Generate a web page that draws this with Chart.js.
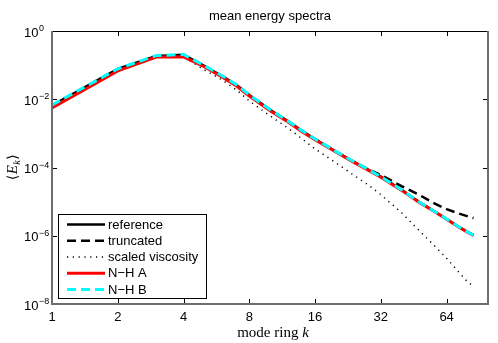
<!DOCTYPE html>
<html>
<head>
<meta charset="utf-8">
<script src="https://cdn.jsdelivr.net/npm/chart.js@4.4.1/dist/chart.umd.min.js"></script>
<style>
  html, body { margin: 0; padding: 0; background: #fff; }
  canvas { display: block; }
</style>
</head>
<body>
<canvas id="chartEspectro" width="498" height="343"></canvas>
<script>
const modos = [1, 2, 3, 4, 5, 6, 7, 8, 10, 12, 14, 16, 20, 24, 28, 32, 40, 48, 56, 64, 72, 80, 85];

const reference = [6.6e-3, 0.077, 0.185, 0.20, 0.094, 0.048, 0.026, 0.0133, 4.8e-3, 2.3e-3, 1.17e-3, 6.8e-4,
    2.9e-4, 1.49e-4, 8.7e-5, 5.4e-5, 2.17e-5, 9.7e-6, 5.3e-6, 3.1e-6, 1.9e-6, 1.28e-6, 1.04e-6];
const truncated = [6.6e-3, 0.077, 0.185, 0.20, 0.094, 0.048, 0.026, 0.0133, 4.8e-3, 2.3e-3, 1.17e-3, 6.8e-4,
    2.9e-4, 1.5e-4, 8.9e-5, 6.0e-5, 2.8e-5, 1.57e-5, 9.0e-6, 6.0e-6, 4.6e-6, 3.7e-6, 3.3e-6];
const scaledViscosity = [6.0e-3, 0.072, 0.175, 0.175, 0.072, 0.037, 0.0186, 8.9e-3, 3.2e-3, 1.44e-3, 6.8e-4, 3.5e-4,
    1.35e-4, 6.0e-5, 3.1e-5, 1.6e-5, 4.6e-6, 1.4e-6, 5.3e-7, 2.2e-7, 9.2e-8, 4.4e-8, 3.3e-8];
const nhA = [5.6e-3, 0.068, 0.172, 0.175, 0.088, 0.045, 0.0245, 0.0125, 4.5e-3, 2.18e-3, 1.1e-3, 6.5e-4,
    2.8e-4, 1.44e-4, 8.4e-5, 5.2e-5, 2.1e-5, 9.5e-6, 5.2e-6, 3.05e-6, 1.87e-6, 1.26e-6, 1.03e-6];
const nhB = [6.8e-3, 0.078, 0.19, 0.205, 0.095, 0.049, 0.0265, 0.0135, 4.85e-3, 2.32e-3, 1.18e-3, 6.85e-4,
    2.92e-4, 1.5e-4, 8.7e-5, 5.4e-5, 2.17e-5, 9.7e-6, 5.3e-6, 3.1e-6, 1.9e-6, 1.28e-6, 1.04e-6];

const ticksX = [1, 2, 4, 8, 16, 32, 64];
const ticksY = [1e-8, 1e-6, 1e-4, 1e-2, 1];

const SANS = '"Liberation Sans", Arial, Helvetica, sans-serif';
const SERIF = '"Liberation Serif", "Times New Roman", serif';

const puntos = serie => modos.map((k, i) => ({ x: k, y: serie[i] }));

// MATLAB-style box, inward ticks, labels and legend
const marcoMatlab = {
    id: 'marcoMatlab',
    afterDraw(chart) {
        const { ctx, chartArea: a, scales: { x, y } } = chart;
        ctx.save();

        // ticks
        ctx.strokeStyle = '#000';
        ctx.lineWidth = 1;
        ctx.setLineDash([]);
        ctx.beginPath();
        ticksX.forEach(v => {
            const px = Math.round(x.getPixelForValue(v)) + 0.5;
            ctx.moveTo(px, a.bottom); ctx.lineTo(px, a.bottom - 5);
            ctx.moveTo(px, a.top); ctx.lineTo(px, a.top + 5);
        });
        ticksY.forEach(v => {
            const py = Math.round(y.getPixelForValue(v)) + 0.5;
            ctx.moveTo(a.left, py); ctx.lineTo(a.left + 5, py);
            ctx.moveTo(a.right, py); ctx.lineTo(a.right - 5, py);
        });
        ctx.stroke();

        // frame
        ctx.beginPath();
        ctx.moveTo(a.left, a.top + 0.5); ctx.lineTo(a.right, a.top + 0.5);
        ctx.stroke();
        ctx.strokeStyle = '#6e6e6e';
        ctx.lineWidth = 2;
        ctx.beginPath();
        ctx.moveTo(a.left, a.top); ctx.lineTo(a.left, a.bottom);
        ctx.lineTo(a.right, a.bottom); ctx.lineTo(a.right, a.top);
        ctx.stroke();

        // y tick labels 10^n
        ctx.fillStyle = '#000';
        ctx.textAlign = 'left';
        ctx.textBaseline = 'alphabetic';
        ticksY.forEach(v => {
            const py = y.getPixelForValue(v);
            const exp = Math.round(Math.log10(v));
            ctx.font = '13px ' + SANS;
            ctx.fillText('10', 24, py + 5.5);
            const w = ctx.measureText('10').width;
            ctx.font = '9px ' + SANS;
            ctx.fillText(exp === 0 ? '0' : '\u2212' + (-exp), 24 + w + 0.5, py);
        });

        // title
        const cx = (a.left + a.right) / 2;
        ctx.font = '13px ' + SANS;
        ctx.textAlign = 'center';
        ctx.fillText('mean energy spectra', cx, 20);

        // x label
        ctx.textAlign = 'left';
        ctx.font = '15px ' + SERIF;
        const t1 = 'mode ring ';
        const w1 = ctx.measureText(t1).width;
        ctx.font = 'italic 15px ' + SERIF;
        const w2 = ctx.measureText('k').width;
        let sx = cx + 3 - (w1 + w2) / 2;
        ctx.font = '15px ' + SERIF;
        ctx.fillText(t1, sx, 337);
        ctx.font = 'italic 15px ' + SERIF;
        ctx.fillText('k', sx + w1, 337);

        // y label <E_k>
        ctx.save();
        ctx.translate(17, 168);
        ctx.rotate(-Math.PI / 2);
        const partes = [
            { t: '\u27E8', f: '14px "DejaVu Serif", serif', dy: 0 },
            { t: 'E', f: 'italic 15px ' + SERIF, dy: 0 },
            { t: 'k', f: 'italic 10px ' + SERIF, dy: 3 },
            { t: '\u27E9', f: '14px "DejaVu Serif", serif', dy: 0 }
        ];
        let total = 0;
        partes.forEach(p => { ctx.font = p.f; p.w = ctx.measureText(p.t).width; total += p.w; });
        let px = -total / 2;
        partes.forEach(p => { ctx.font = p.f; ctx.fillText(p.t, px, p.dy); px += p.w + 0.5; });
        ctx.restore();

        // legend
        const lx = 58.5, ly = 214.5, lw = 148, lh = 84;
        ctx.fillStyle = '#fff';
        ctx.fillRect(lx, ly, lw, lh);
        ctx.strokeStyle = '#000';
        ctx.lineWidth = 1;
        ctx.setLineDash([]);
        ctx.strokeRect(lx, ly, lw, lh);
        ctx.font = '13px ' + SANS;
        ctx.textBaseline = 'middle';
        chart.data.datasets.forEach((ds, i) => {
            const yy = 224.5 + i * 16.25;
            ctx.strokeStyle = ds.borderColor;
            ctx.lineWidth = ds.borderWidth;
            ctx.setLineDash(ds.borderDash || []);
            ctx.beginPath();
            ctx.moveTo(67, yy); ctx.lineTo(105, yy);
            ctx.stroke();
            ctx.fillStyle = '#000';
            ctx.fillText(ds.label, 108, yy + 0.5);
        });
        ctx.restore();
    }
};

new Chart(document.getElementById('chartEspectro'), {
    type: 'line',
    data: {
        datasets: [
            { label: 'reference', data: puntos(reference), borderColor: '#000000', borderWidth: 2.5, order: 5 },
            { label: 'truncated', data: puntos(truncated), borderColor: '#000000', borderWidth: 2.5, borderDash: [9, 5], order: 4 },
            { label: 'scaled viscosity', data: puntos(scaledViscosity), borderColor: '#000000', borderWidth: 1.5, borderDash: [1.2, 4.6], order: 3 },
            { label: 'N\u2212H A', data: puntos(nhA), borderColor: '#ff0000', borderWidth: 3, order: 2 },
            { label: 'N\u2212H B', data: puntos(nhB), borderColor: '#00ffff', borderWidth: 3, borderDash: [9, 5], order: 1 }
        ]
    },
    options: {
        responsive: false,
        animation: false,
        devicePixelRatio: 1,
        layout: { padding: { top: 31, right: 10, left: 0, bottom: 0 } },
        elements: {
            point: { radius: 0 },
            line: { tension: 0, fill: false, borderCapStyle: 'butt' }
        },
        plugins: {
            legend: { display: false },
            title: { display: false },
            tooltip: { enabled: false }
        },
        scales: {
            x: {
                type: 'logarithmic',
                min: 1,
                max: 99,
                grid: { display: false, drawTicks: false },
                border: { display: false },
                afterBuildTicks: s => { s.ticks = ticksX.map(v => ({ value: v })); },
                afterFit: s => { s.height = 39; },
                ticks: {
                    autoSkip: false,
                    maxRotation: 0,
                    padding: 6,
                    color: '#000',
                    font: { family: SANS, size: 13 },
                    callback: v => String(v)
                }
            },
            y: {
                type: 'logarithmic',
                min: 1e-8,
                max: 1,
                grid: { display: false, drawTicks: false },
                border: { display: false },
                afterBuildTicks: s => { s.ticks = ticksY.map(v => ({ value: v })); },
                afterFit: s => { s.width = 52; },
                ticks: { display: false }
            }
        }
    },
    plugins: [marcoMatlab]
});
</script>
</body>
</html>
